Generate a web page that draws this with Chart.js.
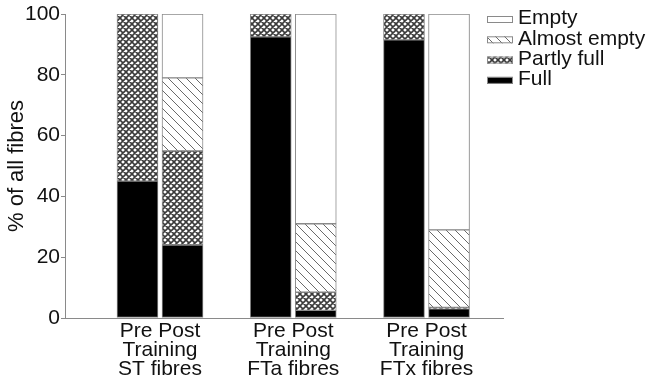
<!DOCTYPE html>
<html>
<head>
<meta charset="utf-8">
<script src="https://cdn.jsdelivr.net/npm/chart.js@4/dist/chart.umd.min.js"></script>
<style>
  html, body { margin: 0; padding: 0; background: #fff; }
  canvas { display: block; }
</style>
</head>
<body>
<canvas id="chart" width="648" height="382"></canvas>
<script>
// Fibre groups and the two sampling points in each group
const groups = ['ST fibres', 'FTa fibres', 'FTx fibres'];
const phases = ['Pre', 'Post'];
const seriesNames = ['Full', 'Partly full', 'Almost empty', 'Empty'];

// % of fibres per bar: ST Pre, ST Post, FTa Pre, FTa Post, FTx Pre, FTx Post
const full        = [45, 24, 92.5, 2.5, 91.5, 3];
const partlyFull  = [55, 31, 7.5, 6, 8.5, 0.5];
const almostEmpty = [0, 24, 0, 22.5, 0, 25.5];
const empty       = [0, 21, 0, 69, 0, 71];

const yTicks = [0, 20, 40, 60, 80, 100];

const FONT = '"Liberation Sans", Arial, Helvetica, sans-serif';
const AXIS_GREY = '#8a8a8a';
const TEXT = '#111';

// fill patterns
function crossHatch() {
  const s = 6;
  const c = document.createElement('canvas');
  c.width = s; c.height = s;
  const g = c.getContext('2d');
  g.fillStyle = '#fff';
  g.fillRect(0, 0, s, s);
  g.strokeStyle = '#3a3a3a';
  g.lineWidth = 1.6;
  g.beginPath();
  for (const k of [-s, 0, s]) {
    g.moveTo(k, 0); g.lineTo(k + s, s);
    g.moveTo(k + s, 0); g.lineTo(k, s);
  }
  g.stroke();
  return g.createPattern(c, 'repeat');
}
function diagonalHatch() {
  const s = 9;
  const c = document.createElement('canvas');
  c.width = s; c.height = s;
  const g = c.getContext('2d');
  g.fillStyle = '#fff';
  g.fillRect(0, 0, s, s);
  g.strokeStyle = '#6a6a6a';
  g.lineWidth = 1;
  g.beginPath();
  for (const k of [-s, 0, s]) {
    g.moveTo(k, 0); g.lineTo(k + s, s);
  }
  g.stroke();
  return g.createPattern(c, 'repeat');
}

// x position of each bar: group index, nudged left for Pre and right for Post
const PAIR_OFFSET = 0.169;
const xOf = i => Math.floor(i / 2) + (i % 2 === 0 ? -PAIR_OFFSET : PAIR_OFFSET);
const toPoints = vals => vals.map((v, i) => ({ x: xOf(i), y: v }));

const fills = ['#000', crossHatch(), diagonalHatch(), '#fff'];
const values = [full, partlyFull, almostEmpty, empty];

const datasets = seriesNames.map((name, k) => ({
  label: name,
  data: toPoints(values[k]),
  backgroundColor: fills[k],
  borderColor: AXIS_GREY,
  borderWidth: 1,
  borderSkipped: false,
  barThickness: 41
}));

// legend drawn in the upper right, top entry = last stacked series
const legendPlugin = {
  id: 'cornerLegend',
  afterDraw(chart) {
    const ctx = chart.ctx;
    const ds = chart.data.datasets.slice().reverse();
    ctx.save();
    ctx.font = '21px ' + FONT;
    ctx.textBaseline = 'middle';
    ctx.textAlign = 'left';
    ds.forEach((d, i) => {
      const cy = 17.5 + i * 20.3;
      ctx.fillStyle = d.backgroundColor;
      ctx.fillRect(487, cy - 1.5, 26, 7);
      ctx.strokeStyle = AXIS_GREY;
      ctx.lineWidth = 1;
      ctx.strokeRect(487.5, cy - 1, 25, 6);
      ctx.fillStyle = TEXT;
      ctx.fillText(d.label, 518, cy + 1);
    });
    ctx.restore();
  }
};

new Chart(document.getElementById('chart'), {
  type: 'bar',
  data: { datasets },
  options: {
    responsive: false,
    animation: false,
    devicePixelRatio: 1,
    layout: { padding: { left: 0, right: 145, top: 14, bottom: 0 } },
    plugins: { legend: { display: false }, tooltip: { enabled: false } },
    scales: {
      x: {
        type: 'linear',
        min: -0.713,
        max: 2.574,
        offset: false,
        stacked: true,
        grid: { display: false, drawTicks: false, tickLength: 0 },
        border: { display: true, color: AXIS_GREY, width: 1 },
        afterBuildTicks: s => { s.ticks = groups.map((g, i) => ({ value: i })); },
        afterFit: s => { s.height = 64; },
        ticks: {
          autoSkip: false,
          maxRotation: 0,
          padding: 4,
          color: TEXT,
          font: { family: FONT, size: 21, lineHeight: 0.9 },
          callback: v => [phases.join(' '), 'Training', groups[Math.round(v)]]
        }
      },
      y: {
        min: 0,
        max: 100,
        stacked: true,
        afterBuildTicks: s => { s.ticks = yTicks.map(v => ({ value: v })); },
        afterFit: s => { s.width = 65; },
        grid: { display: true, drawOnChartArea: false, drawTicks: true, tickLength: 4, color: AXIS_GREY },
        border: { display: true, color: AXIS_GREY, width: 1 },
        ticks: { padding: 1, color: TEXT, font: { family: FONT, size: 21 } },
        title: {
          display: true,
          text: '% of all fibres',
          color: TEXT,
          font: { family: FONT, size: 22 },
          padding: { top: 4, bottom: 0 }
        }
      }
    }
  },
  plugins: [legendPlugin]
});
</script>
</body>
</html>
